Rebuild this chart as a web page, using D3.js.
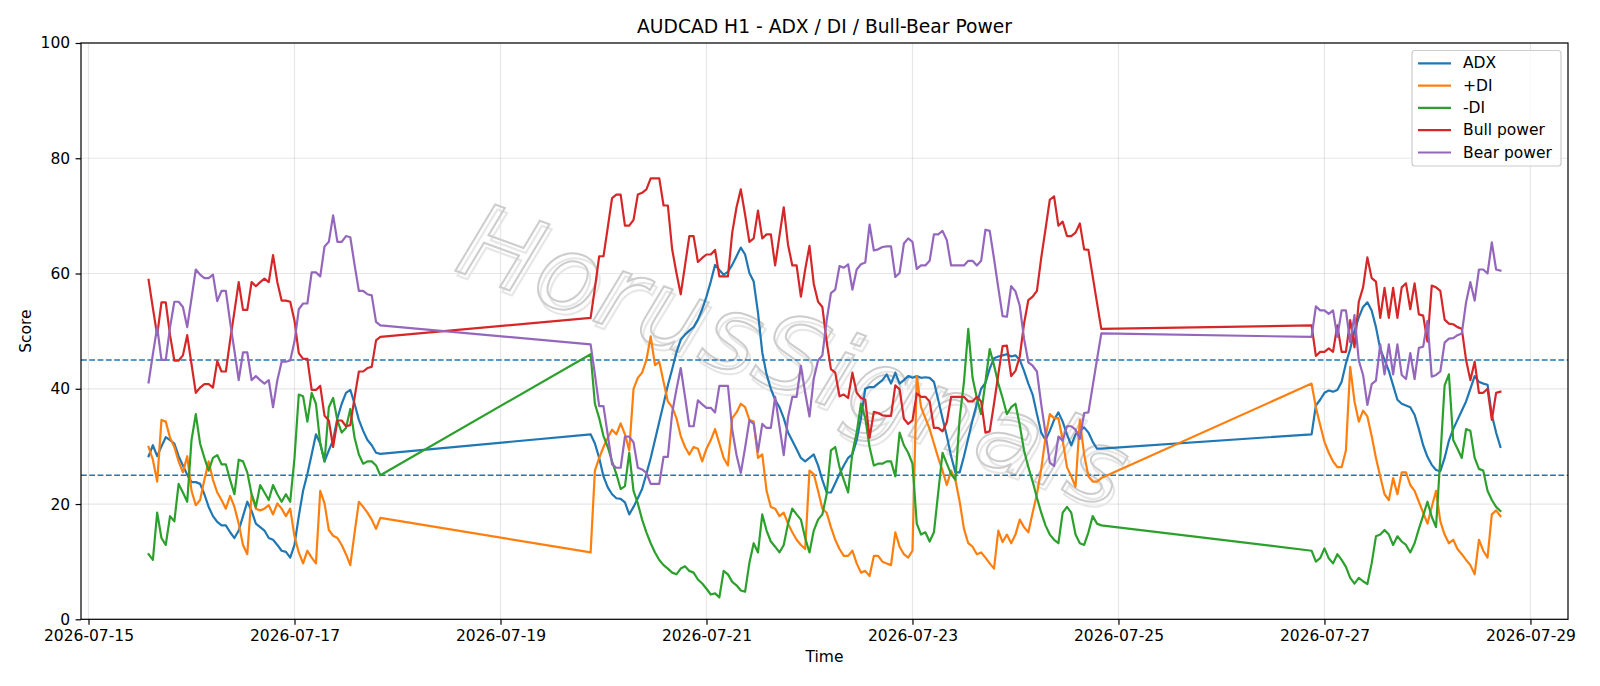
<!DOCTYPE html>
<html><head><meta charset="utf-8">
<script src="https://cdn.jsdelivr.net/npm/d3@7"></script>
<style>
body{margin:0;background:#fff}
svg{display:block}
text{font-family:"DejaVu Sans",sans-serif;fill:#000}
</style>
</head><body>
<svg id="chart" width="1600" height="686"></svg>
<script>
// ---- data (hourly bars, three trading sessions) ----
const segmentStarts = ["2026-07-15T14:00:00Z", "2026-07-19T21:00:00Z", "2026-07-26T21:00:00Z"];
const segmentLengths = [55, 120, 45];

const adx = [
  // segment 1
  28.3,30.2,28.3,30.0,31.6,31.1,30.5,28.3,26.7,25.1,
  23.8,23.8,23.5,21.7,19.5,17.9,16.9,16.3,16.3,15.1,
  14.1,15.4,17.9,20.4,18.8,16.6,16.0,15.4,14.1,13.8,
  12.9,11.9,11.7,10.7,12.9,17.9,22.3,25.2,28.6,32.1,
  30.5,27.4,29.3,31.1,34.9,37.4,39.3,39.8,37.4,34.6,
  32.7,31.1,30.2,28.9,28.7,
  // segment 2
  32.1,30.5,28.0,24.8,22.9,21.7,21.0,20.9,20.3,18.2,
  19.5,21.0,22.6,25.2,28.0,31.1,34.3,37.4,40.6,43.4,
  46.3,48.5,49.4,50.1,50.7,52.0,53.8,56.0,58.6,61.5,
  60.6,59.8,60.3,61.5,63.0,64.5,63.3,60.1,58.6,53.2,
  46.3,42.5,40.0,38.1,36.8,34.9,32.4,31.0,29.5,28.0,
  27.4,28.0,28.6,26.7,24.2,22.0,22.0,23.6,25.2,26.7,
  28.0,28.6,31.1,34.9,40.0,40.3,40.3,40.9,41.5,42.5,
  40.9,42.8,40.9,41.5,42.2,41.9,42.2,41.9,42.0,41.9,
  41.2,38.1,34.9,31.8,28.3,25.5,25.5,28.3,31.4,34.6,
  37.4,40.0,41.0,43.5,45.3,45.6,45.8,46.0,45.6,45.8,
  45.0,43.1,40.9,39.0,35.6,32.4,31.1,32.7,34.6,35.9,
  34.3,32.1,30.2,32.1,32.7,33.3,32.4,30.8,29.6,29.6,
  // segment 3
  32.1,37.1,38.1,39.3,39.7,39.5,39.8,41.2,44.4,46.9,
  50.1,52.4,54.2,55.0,53.6,50.7,46.9,45.0,43.1,40.6,
  38.1,37.4,37.1,36.8,35.5,33.0,30.2,28.2,26.8,25.9,
  25.7,28.0,31.0,33.0,34.6,36.2,37.8,40.0,42.2,41.2,
  40.9,40.7,35.5,32.4,29.9
];

const plusDI = [
  // segment 1
  29.9,27.7,23.9,34.6,34.3,31.5,29.9,27.4,25.5,28.3,
  22.3,19.8,20.7,24.2,27.4,24.2,22.0,20.7,19.2,21.4,
  19.5,16.6,12.9,11.3,21.7,19.2,18.9,19.2,19.8,18.2,
  20.1,19.2,17.9,19.2,14.4,11.6,9.7,11.9,10.7,9.7,
  22.3,20.1,15.5,14.5,14.1,12.9,11.3,9.4,15.0,20.4,
  19.5,18.5,17.3,15.7,17.6,
  // segment 2
  11.6,25.8,28.0,29.9,31.5,32.9,32.1,34.0,32.1,29.3,
  40.0,41.9,42.8,45.0,49.1,44.1,44.7,41.2,37.8,36.8,
  34.9,31.8,29.9,28.6,29.9,29.6,27.4,29.6,31.1,33.0,
  30.5,28.0,26.7,34.9,35.9,37.4,36.8,34.6,34.3,28.0,
  28.6,22.3,19.5,19.2,17.9,18.5,16.6,15.1,13.8,12.9,
  12.2,25.8,25.2,22.3,19.2,18.5,16.0,13.8,12.2,11.0,
  11.0,11.9,9.7,8.1,8.4,7.5,11.0,11.0,10.0,9.7,
  9.4,15.1,12.6,11.3,10.7,11.9,42.2,36.8,34.9,33.0,
  30.5,28.0,25.8,23.3,25.8,24.2,20.4,15.7,13.2,12.6,
  11.3,11.6,10.7,9.7,8.8,15.4,13.4,14.7,13.2,14.7,
  17.3,16.0,15.1,18.5,21.7,26.1,31.5,35.6,34.9,34.9,
  31.1,26.4,24.8,23.0,34.6,28.6,24.8,23.9,23.9,24.5,
  // segment 3
  40.9,36.8,33.7,30.8,28.9,27.4,26.4,26.4,29.3,43.8,
  37.8,34.3,36.2,35.2,31.8,28.0,24.8,21.7,20.7,24.5,
  21.7,25.5,25.5,23.3,22.3,20.4,18.5,16.6,19.5,22.3,
  17.0,14.7,13.2,13.8,12.2,11.3,10.3,9.4,7.8,13.8,
  11.9,10.7,18.2,18.9,17.9
];

const minusDI = [
  // segment 1
  11.3,10.3,18.5,14.1,12.9,17.9,17.0,23.5,22.0,20.4,
  31.1,35.6,30.5,28.0,25.8,28.0,28.5,26.9,26.9,24.2,
  21.7,27.7,27.4,25.5,21.7,19.5,23.3,22.0,20.7,23.3,
  21.7,20.4,21.7,20.4,28.0,39.0,38.7,34.3,39.3,37.4,
  30.5,27.4,36.8,38.4,34.5,32.4,33.2,36.5,31.5,28.6,
  27.0,27.4,27.4,26.7,25.0,
  // segment 2
  46.0,37.4,34.9,31.8,29.9,27.4,25.2,22.6,23.1,28.9,
  22.3,20.1,17.3,15.1,13.2,11.6,10.3,9.4,8.8,8.1,
  7.8,8.8,9.2,8.4,8.1,6.9,6.2,5.3,4.3,4.5,
  3.8,8.4,7.8,6.5,5.9,5.0,4.8,9.8,13.2,11.6,
  18.2,15.4,13.5,12.6,11.6,12.9,16.6,19.2,18.2,17.3,
  14.1,11.6,15.4,17.3,18.2,21.7,29.3,29.9,26.4,24.2,
  22.0,28.9,32.4,37.4,34.9,29.9,26.7,27.0,27.0,27.4,
  27.4,24.8,32.4,30.2,28.9,27.0,16.6,14.7,15.1,13.5,
  15.1,22.0,28.9,27.0,25.2,24.2,34.9,41.2,50.4,41.9,
  38.4,35.6,41.2,46.9,44.1,40.9,38.4,35.6,36.8,37.4,
  33.7,29.3,26.4,23.9,21.1,18.5,16.3,14.7,13.8,13.2,
  18.5,19.5,18.5,14.7,13.2,12.9,15.1,17.9,16.6,16.3,
  // segment 3
  11.9,10.0,10.6,12.3,10.6,9.7,11.3,10.3,9.1,7.2,
  6.2,7.2,6.6,6.1,9.7,14.4,14.7,15.5,14.7,12.9,
  14.4,13.5,12.9,11.6,13.2,15.7,18.0,20.4,17.8,16.0,
  28.0,40.6,42.5,31.1,29.6,28.0,33.0,32.7,28.0,26.1,
  25.8,22.3,20.7,19.5,18.8
];

const bullPower = [
  // segment 1
  58.9,54.0,49.3,55.0,55.0,49.3,44.9,44.9,45.8,49.3,
  44.3,39.3,40.2,40.8,40.8,40.2,44.8,43.0,43.0,48.4,
  53.4,58.5,53.7,53.7,58.5,57.8,58.5,59.1,58.5,63.2,
  58.5,55.3,55.3,55.1,51.8,46.2,45.2,45.2,39.8,39.8,
  40.5,35.3,34.5,29.9,34.5,34.5,33.5,33.7,38.5,43.0,
  43.0,43.6,43.8,48.4,49.0,
  // segment 2
  52.3,57.5,63.0,63.0,68.0,73.1,73.7,73.7,68.3,68.3,
  69.3,73.7,74.0,74.6,76.5,76.5,76.5,71.8,71.8,64.2,
  60.1,56.4,61.4,66.5,66.5,62.0,62.7,63.3,63.3,64.1,
  59.5,59.5,59.5,67.1,71.5,74.6,70.2,65.5,66.1,70.9,
  66.1,66.8,66.8,61.4,66.5,71.5,65.0,61.4,61.4,56.0,
  60.7,64.8,58.2,55.1,54.2,48.2,43.4,42.8,38.7,39.0,
  38.4,42.8,39.3,38.4,38.1,31.5,36.0,35.8,35.4,35.3,
  35.3,40.6,39.9,34.8,33.9,34.5,39.2,38.6,38.6,37.8,
  33.2,33.2,32.6,34.2,38.6,38.6,38.6,38.6,37.8,37.8,
  38.6,37.8,32.4,32.6,37.4,42.5,47.4,47.5,42.2,43.1,
  45.6,51.3,55.4,56.0,57.0,62.7,67.7,72.8,73.4,68.3,
  69.0,66.5,66.5,67.1,68.7,64.2,64.1,59.5,54.9,50.4,
  // segment 3
  51.0,45.7,46.4,46.4,47.0,46.4,51.0,46.4,46.4,51.9,
  47.2,55.1,57.6,62.8,59.2,58.6,52.3,57.5,52.3,57.5,
  52.3,57.6,58.3,53.8,58.3,52.9,52.7,48.2,57.9,57.6,
  57.0,52.0,51.3,51.2,50.7,50.4,45.0,41.5,44.7,39.3,
  39.3,40.0,34.6,39.3,39.5
];

const bearPower = [
  // segment 1
  41.1,46.0,50.7,45.0,45.0,50.7,55.1,55.1,54.2,50.7,
  55.7,60.7,59.8,59.2,59.2,59.8,55.2,57.0,57.0,51.6,
  46.6,41.5,46.3,46.3,41.5,42.2,41.5,40.9,41.5,36.8,
  41.5,44.7,44.7,44.9,48.2,53.8,54.8,54.8,60.2,60.2,
  59.5,64.7,65.5,70.1,65.5,65.5,66.5,66.3,61.5,57.0,
  57.0,56.4,56.2,51.6,51.0,
  // segment 2
  47.7,42.5,37.0,37.0,32.0,26.9,26.3,26.3,31.7,31.7,
  30.7,26.3,26.0,25.4,23.5,23.5,23.5,28.2,28.2,35.8,
  39.9,43.6,38.6,33.5,33.5,38.0,37.3,36.7,36.7,35.9,
  40.5,40.5,40.5,32.9,28.5,25.4,29.8,34.5,33.9,29.1,
  33.9,33.2,33.2,38.6,33.5,28.5,35.0,38.6,38.6,44.0,
  39.3,35.2,41.8,44.9,45.8,51.8,56.6,57.2,61.3,61.0,
  61.6,57.2,60.7,61.6,61.9,68.5,64.0,64.2,64.6,64.7,
  64.7,59.4,60.1,65.2,66.1,65.5,60.8,61.4,61.4,62.2,
  66.8,66.8,67.4,65.8,61.4,61.4,61.4,61.4,62.2,62.2,
  61.4,62.2,67.6,67.4,62.6,57.5,52.6,52.5,57.8,56.9,
  54.4,48.7,44.6,44.0,43.0,37.3,32.3,27.2,26.6,31.7,
  31.0,33.5,33.5,32.9,31.3,35.8,35.9,40.5,45.1,49.6,
  // segment 3
  49.0,54.3,53.6,53.6,53.0,53.6,49.0,53.6,53.6,48.1,
  52.8,44.9,42.4,37.2,40.8,41.4,47.7,42.5,47.7,42.5,
  47.7,42.4,41.7,46.2,41.7,47.1,47.3,51.8,42.1,42.4,
  43.0,48.0,48.7,48.8,49.3,49.6,55.0,58.5,55.3,60.7,
  60.7,60.0,65.4,60.7,60.5
];

const seriesNames = ["ADX", "+DI", "-DI", "Bull power", "Bear power"];
const seriesColors = ["#1f77b4", "#ff7f0e", "#2ca02c", "#d62728", "#9467bd"];
const referenceLevels = [25, 45];
const yTicks = [0, 20, 40, 60, 80, 100];
const xTickLabels = ["2026-07-15","2026-07-17","2026-07-19","2026-07-21","2026-07-23","2026-07-25","2026-07-27","2026-07-29"];
const titleText = "AUDCAD H1 - ADX / DI / Bull-Bear Power";
const watermarkText = "HorusSignals";

// ---- build timestamps ----
const HOUR = 3600e3;
const times = [];
segmentStarts.forEach((s, si) => {
  const t0 = Date.parse(s);
  for (let k = 0; k < segmentLengths[si]; k++) times.push(new Date(t0 + k * HOUR));
});
const allSeries = [adx, plusDI, minusDI, bullPower, bearPower];

// ---- layout ----
const M = {left: 81, right: 1568, top: 43, bottom: 619.3};
const svg = d3.select("#chart");

const tMin = times[0], tMax = times[times.length - 1];
const pad = (tMax - tMin) * 0.05;
const x = d3.scaleUtc().domain([new Date(+tMin - pad), new Date(+tMax + pad)]).range([M.left, M.right]);
const y = d3.scaleLinear().domain([0, 100]).range([M.bottom, M.top]);

const parseDay = d3.utcParse("%Y-%m-%d");
const xTickDates = xTickLabels.map(parseDay);

// grid
const grid = svg.append("g");
grid.selectAll("line.gx").data(xTickDates).enter().append("line")
  .attr("x1", d => x(d)).attr("x2", d => x(d)).attr("y1", M.top).attr("y2", M.bottom)
  .attr("stroke", "#b0b0b0").attr("stroke-opacity", 0.3).attr("stroke-width", 1.2);
grid.selectAll("line.gy").data(yTicks).enter().append("line")
  .attr("x1", M.left).attr("x2", M.right).attr("y1", d => y(d)).attr("y2", d => y(d))
  .attr("stroke", "#b0b0b0").attr("stroke-opacity", 0.3).attr("stroke-width", 1.2);

// watermark
const wm = svg.append("g").attr("transform", "translate(795,356) rotate(20)");
[[4, 4, "#e6e6e6"], [0, 0, "#cdcdcd"]].forEach(([dx, dy, c]) => {
  wm.append("text").text(watermarkText)
    .attr("x", dx).attr("y", dy)
    .attr("text-anchor", "middle").attr("dominant-baseline", "central")
    .style("font-family", "'DejaVu Sans',sans-serif").style("font-style", "italic")
    .style("font-size", "104px").style("letter-spacing", "2px").style("fill", "none")
    .style("stroke", c).style("stroke-width", 2);
});

// reference lines
svg.selectAll("line.ref").data(referenceLevels).enter().append("line")
  .attr("x1", M.left).attr("x2", M.right).attr("y1", d => y(d)).attr("y2", d => y(d))
  .attr("stroke", "#1f77b4").attr("stroke-width", 1.5).attr("stroke-dasharray", "5.8,2.5");

// series lines
const plotG = svg.append("g");
allSeries.forEach((vals, si) => {
  const line = d3.line().x((d, i) => x(times[i])).y(d => y(d));
  plotG.append("path").datum(vals)
    .attr("d", line).attr("fill", "none")
    .attr("stroke", seriesColors[si]).attr("stroke-width", 2.2)
    .attr("stroke-linejoin", "round").attr("stroke-linecap", "square");
});

// axes
const xAxis = d3.axisBottom(x).tickValues(xTickDates).tickFormat(d3.utcFormat("%Y-%m-%d")).tickSize(5.4).tickPadding(5);
const gx = svg.append("g").attr("transform", `translate(0,${M.bottom})`).call(xAxis);
gx.select(".domain").remove();
gx.selectAll("line").attr("stroke", "#000").attr("stroke-width", 1.2);
gx.selectAll("text").style("font-size", "15.5px").style("font-family", "'DejaVu Sans',sans-serif").attr("fill", "#000");

const yAxis = d3.axisLeft(y).tickValues(yTicks).tickSize(5.4).tickPadding(5.5);
const gy = svg.append("g").attr("transform", `translate(${M.left},0)`).call(yAxis);
gy.select(".domain").remove();
gy.selectAll("line").attr("stroke", "#000").attr("stroke-width", 1.2);
gy.selectAll("text").style("font-size", "15.5px").style("font-family", "'DejaVu Sans',sans-serif").attr("fill", "#000");

// frame
svg.append("rect").attr("x", M.left).attr("y", M.top)
  .attr("width", M.right - M.left).attr("height", M.bottom - M.top)
  .attr("fill", "none").attr("stroke", "#000").attr("stroke-width", 1.2);

// labels
svg.append("text").text(titleText).attr("x", (M.left + M.right) / 2).attr("y", 26)
  .attr("text-anchor", "middle").attr("dominant-baseline", "central").style("font-size", "18.7px");
svg.append("text").text("Time").attr("x", (M.left + M.right) / 2).attr("y", 657)
  .attr("text-anchor", "middle").attr("dominant-baseline", "central").style("font-size", "15.5px");
svg.append("text").text("Score").attr("transform", `translate(26,${(M.top + M.bottom) / 2}) rotate(-90)`)
  .attr("text-anchor", "middle").attr("dominant-baseline", "central").style("font-size", "15.5px");

// legend
const lg = svg.append("g");
lg.append("rect").attr("x", 1412).attr("y", 50.5).attr("width", 149).attr("height", 115.5)
  .attr("rx", 3).attr("fill", "#fff").attr("fill-opacity", 0.8).attr("stroke", "#cccccc").attr("stroke-width", 1.2);
seriesNames.forEach((n, i) => {
  const yy = 63.3 + i * 22.3;
  lg.append("line").attr("x1", 1418).attr("x2", 1451).attr("y1", yy).attr("y2", yy)
    .attr("stroke", seriesColors[i]).attr("stroke-width", 2.2);
  lg.append("text").text(n).attr("x", 1463).attr("y", yy).attr("dominant-baseline", "central")
    .style("font-size", "15.5px");
});
</script>
</body></html>
